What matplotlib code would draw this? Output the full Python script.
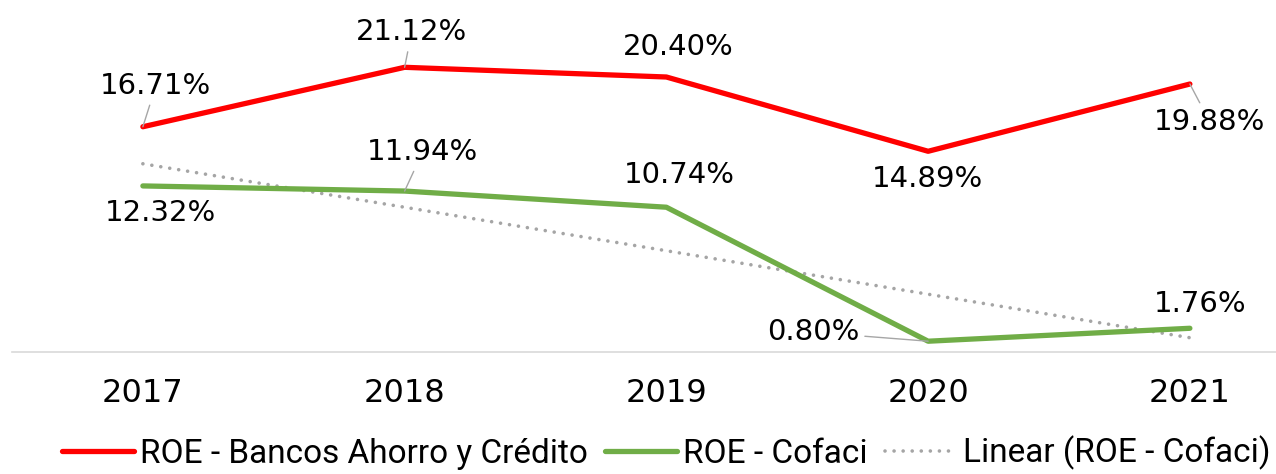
import numpy as np
import matplotlib
import matplotlib.pyplot as plt

matplotlib.rcParams['font.family'] = 'DejaVu Sans'

# data
years = ['2017', '2018', '2019', '2020', '2021']
roe_bancos = [16.71, 21.12, 20.40, 14.89, 19.88]
roe_cofaci = [12.32, 11.94, 10.74, 0.80, 1.76]

# label placement (offset pixels from point, leader line yes/no)
off_bancos = [(13, 41, True), (7, 35, True), (12, 30, False), (-1, -28, False), (20, -38, True)]
off_cofaci = [(18, -27, False), (18, 39, True), (13, 32, False), (-115, 9, True), (10, 24, False)]

x = np.arange(len(years))

fig = plt.figure(figsize=(12.76, 4.74), dpi=100)
ax = fig.add_axes([12/1276, 122/474, 1264/1276, 337/474])

ax.plot(x, roe_bancos, color='#FF0000', lw=3.8, solid_capstyle='round',
        solid_joinstyle='round', label='ROE - Bancos Ahorro y Crédito', zorder=3)
ax.plot(x, roe_cofaci, color='#70AD47', lw=3.8, solid_capstyle='round',
        solid_joinstyle='round', label='ROE - Cofaci', zorder=3)

# linear trendline (Excel style) of Cofaci
coef = np.polyfit(x + 1, roe_cofaci, 1)
trend = np.polyval(coef, x + 1)
ax.plot(x, trend, color='#A5A5A5', lw=2.6, ls=(0, (0.01, 2.5)),
        dash_capstyle='round', label='Linear (ROE - Cofaci)', zorder=2)

# data labels
for vals, offs in [(roe_bancos, off_bancos), (roe_cofaci, off_cofaci)]:
    for i, v in enumerate(vals):
        dx, dy, lead = offs[i]
        props = None
        if lead:
            props = dict(arrowstyle='-', color='#A6A6A6', lw=1.0, shrinkA=2, shrinkB=0)
        ax.annotate(f'{v:.2f}%', xy=(i, v), xytext=(dx, dy), textcoords='offset pixels',
                    ha='center', va='center', fontsize=21, color='black',
                    arrowprops=props, annotation_clip=False, zorder=4)

ax.set_xlim(-0.5, -0.5 + 1264/261.75)
ax.set_ylim(0, 25)
ax.set_xticks(x)
ax.set_xticklabels(years, fontsize=23)
ax.tick_params(axis='x', length=0, pad=19)
ax.set_yticks([])
for s in ['top', 'right', 'left']:
    ax.spines[s].set_visible(False)
ax.spines['bottom'].set_color('#D9D9D9')
ax.spines['bottom'].set_linewidth(1.2)

fig.legend(loc='center left', bbox_to_anchor=(62/1276, 21/474), frameon=False,
           ncol=3, handlelength=2.15, handletextpad=0.2, columnspacing=0.5,
           borderpad=0, borderaxespad=0,
           prop={'family': ['Roboto', 'DejaVu Sans'], 'size': 24})

plt.savefig('out.png', dpi=100)
